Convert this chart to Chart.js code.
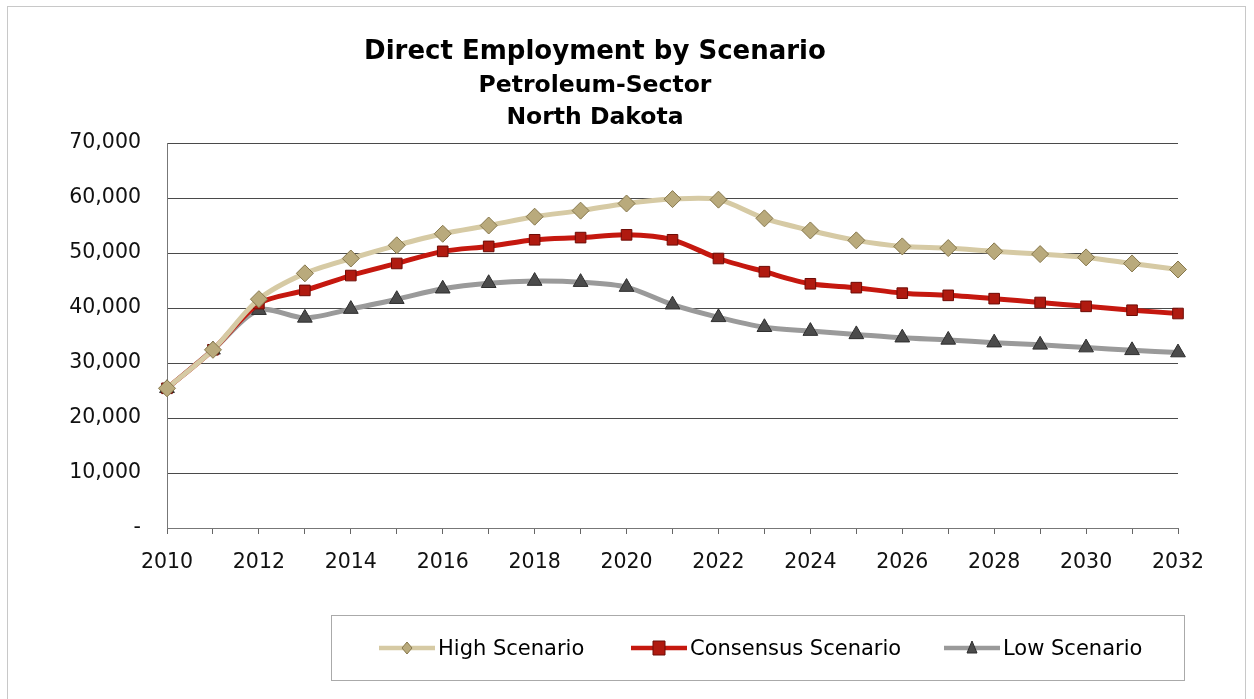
<!DOCTYPE html>
<html>
<head>
<meta charset="utf-8">
<script src="https://cdn.jsdelivr.net/npm/chart.js@4/dist/chart.umd.min.js"></script>
<style>
  html, body { margin: 0; padding: 0; background: #fff; }
  #wrap { position: relative; width: 1254px; height: 699px; overflow: hidden; }
  #frame { position: absolute; left: 7px; top: 6px; right: 8px; bottom: -4px; border: 1px solid #c8c8c8; }
  #title { position: absolute; left: 395px; width: 400px; top: 33px; text-align: center;
           font-family: "DejaVu Sans", sans-serif; font-weight: bold; color: #000; }
  #title .t1 { font-size: 26px; line-height: 35px; white-space: nowrap; margin-left: -100px; margin-right: -100px; }
  #title .t2 { font-size: 23.5px; line-height: 32px; }
  #legend { position: absolute; left: 331px; top: 615px; width: 852px; height: 64px;
            border: 1px solid #aaa; font-family: "DejaVu Sans", sans-serif; font-size: 21px; color: #000; }
  .item { position: absolute; top: 20px; display: flex; align-items: center; height: 24px; }
  .item canvas { margin-right: 3px; }
</style>
</head>
<body>
<div id="wrap">
  <div id="frame"></div>
  <canvas id="chart" width="1254" height="699"></canvas>
  <div id="title">
    <div class="t1">Direct Employment by Scenario</div>
    <div class="t2">Petroleum-Sector</div>
    <div class="t2">North Dakota</div>
  </div>
  <div id="legend"></div>
</div>
<script>
// years on the x axis
const years = ['2010','2011','2012','2013','2014','2015','2016','2017','2018','2019','2020',
  '2021','2022','2023','2024','2025','2026','2027','2028','2029','2030','2031','2032'];

// employment by scenario
const highScenario = [25400, 32400, 41600, 46300, 49000, 51400, 53500, 55000, 56600, 57700, 59000,
  59800, 59700, 56300, 54100, 52300, 51200, 50900, 50300, 49800, 49200, 48100, 47000];
const consensusScenario = [25400, 32400, 40800, 43200, 45900, 48100, 50300, 51200, 52400, 52800, 53300,
  52400, 49000, 46600, 44400, 43700, 42700, 42300, 41700, 41000, 40300, 39600, 39000];
const lowScenario = [25400, 32400, 39600, 38200, 39800, 41600, 43500, 44500, 44900, 44700, 43800,
  40600, 38300, 36500, 35800, 35200, 34600, 34200, 33700, 33300, 32800, 32300, 31900];

const yTicks = [0, 10000, 20000, 30000, 40000, 50000, 60000, 70000];

const series = [
  { label: 'High Scenario', data: highScenario, line: '#d6caa4', fill: '#b9aa7c', edge: '#86774c', style: 'rectRot', r: 8.5 },
  { label: 'Consensus Scenario', data: consensusScenario, line: '#c5180f', fill: '#b01a10', edge: '#6e0c06', style: 'rect', r: 7.5 },
  { label: 'Low Scenario', data: lowScenario, line: '#9a9a9a', fill: '#4b4b4b', edge: '#2e2e2e', style: 'triangle', r: 8.5 }
];

const ctx = document.getElementById('chart').getContext('2d');
new Chart(ctx, {
  type: 'line',
  data: {
    labels: years,
    datasets: series.map((s) => ({
      label: s.label,
      data: s.data,
      borderColor: s.line,
      borderWidth: 5,
      tension: 0.3,
      pointStyle: s.style,
      pointRadius: s.r,
      pointBackgroundColor: s.fill,
      pointBorderColor: s.edge,
      pointBorderWidth: 1
    }))
  },
  options: {
    responsive: false,
    animation: false,
    layout: { padding: { top: 143, right: 76, left: 0, bottom: 0 } },
    plugins: {
      legend: { display: false },
      title: { display: false },
      tooltip: { enabled: false }
    },
    scales: {
      x: {
        offset: false,
        afterFit: (scale) => { scale.height = 171; },
        grid: { drawOnChartArea: false, drawTicks: true, tickLength: 6, color: '#666' },
        border: { color: '#777', width: 1 },
        ticks: {
          autoSkip: false, maxRotation: 0, minRotation: 0, padding: 16,
          color: '#111', font: { family: 'DejaVu Sans', size: 20.5 },
          callback: function (v, i) { return i % 2 === 0 ? years[i] : ''; }
        }
      },
      y: {
        min: 0, max: 70000,
        afterFit: (scale) => { scale.width = 167; },
        afterBuildTicks: (scale) => { scale.ticks = yTicks.map((v) => ({ value: v })); },
        grid: { color: '#4a4a4a', lineWidth: 1, drawTicks: false },
        border: { color: '#777', width: 1 },
        ticks: {
          padding: 26, color: '#111', font: { family: 'DejaVu Sans', size: 20.5 },
          callback: (v) => (v === 0 ? '-' : v.toLocaleString('en-US'))
        }
      }
    }
  }
});

// legend in a box under the chart, each key is a short line with the marker on it
const legendEl = document.getElementById('legend');
const legendLeft = [47, 299, 612];
series.forEach((s, i) => {
  const item = document.createElement('div');
  item.className = 'item';
  item.style.left = legendLeft[i] + 'px';
  const c = document.createElement('canvas');
  c.width = 56; c.height = 20;
  const g = c.getContext('2d');
  g.strokeStyle = s.line; g.lineWidth = 4.5;
  g.beginPath(); g.moveTo(0, 10); g.lineTo(56, 10); g.stroke();
  g.fillStyle = s.fill; g.strokeStyle = s.edge; g.lineWidth = 1;
  g.beginPath();
  if (s.style === 'rectRot') {
    g.moveTo(28, 4); g.lineTo(33, 10); g.lineTo(28, 16); g.lineTo(23, 10); g.closePath();
  } else if (s.style === 'rect') {
    g.rect(22, 3, 12, 14);
  } else {
    g.moveTo(28, 3); g.lineTo(33, 15); g.lineTo(23, 15); g.closePath();
  }
  g.fill(); g.stroke();
  const t = document.createElement('span');
  t.textContent = s.label;
  item.appendChild(c);
  item.appendChild(t);
  legendEl.appendChild(item);
});
</script>
</body>
</html>
